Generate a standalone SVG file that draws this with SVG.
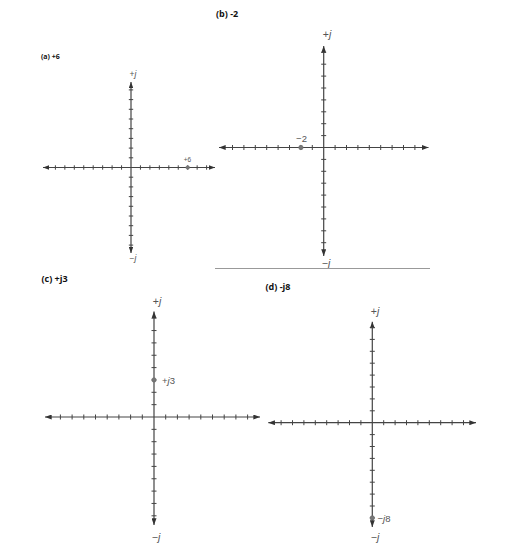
<svg xmlns="http://www.w3.org/2000/svg" width="508" height="547" viewBox="0 0 508 547">
<defs>
<style>
.ax{stroke:#444;stroke-width:1.2;fill:none}
.tk{stroke:#444;stroke-width:1;fill:none}
.pt{fill:#777;stroke:#666;stroke-width:0.6}
.lb{font-family:"Liberation Sans",Arial,sans-serif;fill:#555;text-anchor:middle}
.ls{font-family:"Liberation Sans",Arial,sans-serif;fill:#555;text-anchor:start}
.ttl{font-family:"Open Sans","Liberation Sans",Arial,sans-serif;font-weight:bold;fill:#111}
</style>
<marker id="ar" viewBox="0 0 8 6" refX="8" refY="3" markerWidth="7" markerHeight="5" markerUnits="userSpaceOnUse" orient="auto-start-reverse"><path d="M0,0L8,3L0,6z" fill="#333"/></marker>
<marker id="ars" viewBox="0 0 8 6" refX="8" refY="3" markerWidth="6" markerHeight="4.5" markerUnits="userSpaceOnUse" orient="auto-start-reverse"><path d="M0,0L8,3L0,6z" fill="#333"/></marker>
</defs>
<rect width="508" height="547" fill="#fff"/>

<g id="panel-a">
<text class="ttl" x="41" y="59" font-size="7">(a) +6</text>
<line class="ax" x1="43" y1="167.5" x2="215" y2="167.5" marker-start="url(#ars)" marker-end="url(#ars)"/>
<line class="ax" x1="131" y1="82" x2="131" y2="253" marker-start="url(#ars)" marker-end="url(#ars)"/>
<path class="tk" d="M121.55 165.3v4.4M140.45 165.3v4.4M112.1 165.3v4.4M149.9 165.3v4.4M102.65 165.3v4.4M159.35 165.3v4.4M93.2 165.3v4.4M168.8 165.3v4.4M83.75 165.3v4.4M178.25 165.3v4.4M74.3 165.3v4.4M187.7 165.3v4.4M64.85 165.3v4.4M197.15 165.3v4.4M55.4 165.3v4.4M206.6 165.3v4.4"/>
<path class="tk" d="M128.8 157.8h4.4M128.8 177.2h4.4M128.8 148.1h4.4M128.8 186.9h4.4M128.8 138.4h4.4M128.8 196.6h4.4M128.8 128.7h4.4M128.8 206.3h4.4M128.8 119h4.4M128.8 216h4.4M128.8 109.3h4.4M128.8 225.7h4.4M128.8 99.6h4.4M128.8 235.4h4.4M128.8 89.9h4.4M128.8 245.1h4.4"/>
<circle class="pt" cx="187.7" cy="167.5" r="1.8"/>
<text class="lb" x="187.5" y="162.3" font-size="6.5">+6</text>
<text class="lb" x="133" y="77" font-size="8.5">+<tspan font-style="italic">j</tspan></text>
<text class="lb" x="133" y="260.5" font-size="8.5">−<tspan font-style="italic">j</tspan></text>
</g>

<g id="panel-b">
<text class="ttl" x="216" y="16.5" font-size="9">(b) -2</text>
<line class="ax" x1="219" y1="147.5" x2="428.5" y2="147.5" marker-start="url(#ar)" marker-end="url(#ar)"/>
<line class="ax" x1="323.7" y1="46" x2="323.7" y2="256" marker-start="url(#ar)" marker-end="url(#ar)"/>
<path class="tk" d="M312.3 145v5M335.1 145v5M300.9 145v5M346.5 145v5M289.5 145v5M357.9 145v5M278.1 145v5M369.3 145v5M266.7 145v5M380.7 145v5M255.3 145v5M392.1 145v5M243.9 145v5M403.5 145v5M232.5 145v5M414.9 145v5"/>
<path class="tk" d="M321.2 135.6h5M321.2 159.4h5M321.2 123.7h5M321.2 171.3h5M321.2 111.8h5M321.2 183.2h5M321.2 99.9h5M321.2 195.1h5M321.2 88h5M321.2 207h5M321.2 76.1h5M321.2 218.9h5M321.2 64.2h5M321.2 230.8h5M321.2 52.3h5M321.2 242.7h5"/>
<circle class="pt" cx="300.9" cy="147.5" r="2.2"/>
<text class="lb" x="301.5" y="141.5" font-size="9.5">−2</text>
<text class="lb" x="327" y="37.5" font-size="10.5">+<tspan font-style="italic">j</tspan></text>
<text class="lb" x="326" y="267" font-size="10.5">−<tspan font-style="italic">j</tspan></text>
<line x1="215" y1="268.5" x2="430" y2="268.5" stroke="#999" stroke-width="1"/>
</g>

<g id="panel-c">
<text class="ttl" x="41.5" y="282" font-size="9">(c) +j3</text>
<line class="ax" x1="45" y1="417" x2="260" y2="417" marker-start="url(#ar)" marker-end="url(#ar)"/>
<line class="ax" x1="154" y1="311.5" x2="154" y2="525" marker-start="url(#ar)" marker-end="url(#ar)"/>
<path class="tk" d="M142.3 414.5v5M165.7 414.5v5M130.6 414.5v5M177.4 414.5v5M118.9 414.5v5M189.1 414.5v5M107.2 414.5v5M200.8 414.5v5M95.5 414.5v5M212.5 414.5v5M83.8 414.5v5M224.2 414.5v5M72.1 414.5v5M235.9 414.5v5M60.4 414.5v5M247.6 414.5v5"/>
<path class="tk" d="M151.5 404.65h5M151.5 429.35h5M151.5 392.3h5M151.5 441.7h5M151.5 379.95h5M151.5 454.05h5M151.5 367.6h5M151.5 466.4h5M151.5 355.25h5M151.5 478.75h5M151.5 342.9h5M151.5 491.1h5M151.5 330.55h5M151.5 503.45h5M151.5 318.2h5M151.5 515.8h5"/>
<circle class="pt" cx="154" cy="379.95" r="2.2"/>
<text class="ls" x="162" y="384" font-size="9.5">+<tspan font-style="italic">j</tspan>3</text>
<text class="lb" x="157" y="304.5" font-size="10.5">+<tspan font-style="italic">j</tspan></text>
<text class="lb" x="156" y="540.5" font-size="10.5">−<tspan font-style="italic">j</tspan></text>
</g>

<g id="panel-d">
<text class="ttl" x="265.5" y="290" font-size="9">(d) -j8</text>
<line class="ax" x1="268.3" y1="422.7" x2="476" y2="422.7" marker-start="url(#ar)" marker-end="url(#ar)"/>
<line class="ax" x1="372.3" y1="321.7" x2="372.3" y2="527" marker-start="url(#ar)" marker-end="url(#ar)"/>
<path class="tk" d="M360.9 420.2v5M383.7 420.2v5M349.5 420.2v5M395.1 420.2v5M338.1 420.2v5M406.5 420.2v5M326.7 420.2v5M417.9 420.2v5M315.3 420.2v5M429.3 420.2v5M303.9 420.2v5M440.7 420.2v5M292.5 420.2v5M452.1 420.2v5M281.1 420.2v5M463.5 420.2v5"/>
<path class="tk" d="M369.8 410.8h5M369.8 434.6h5M369.8 398.9h5M369.8 446.5h5M369.8 387h5M369.8 458.4h5M369.8 375.1h5M369.8 470.3h5M369.8 363.2h5M369.8 482.2h5M369.8 351.3h5M369.8 494.1h5M369.8 339.4h5M369.8 506h5M369.8 327.5h5M369.8 517.9h5"/>
<circle class="pt" cx="372.3" cy="517.9" r="2.2"/>
<text class="ls" x="377.5" y="521.5" font-size="9.5">−<tspan font-style="italic">j</tspan>8</text>
<text class="lb" x="375" y="314.5" font-size="10.5">+<tspan font-style="italic">j</tspan></text>
<text class="lb" x="375" y="540.5" font-size="10.5">−<tspan font-style="italic">j</tspan></text>
</g>
</svg>
